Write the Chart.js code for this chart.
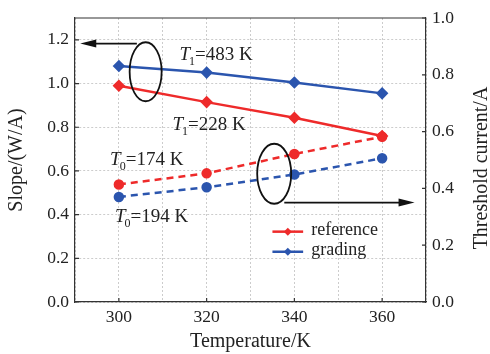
<!DOCTYPE html>
<html lang="en">
<head>
  <meta charset="UTF-8">
  <title>Slope and threshold current vs temperature</title>
  <script src="https://cdn.jsdelivr.net/npm/chart.js"></script>
  <style>
    body { margin: 0; background: #fff; }
    canvas { display: block; }
  </style>
</head>
<body>
  <canvas id="tempChart" width="490" height="354"></canvas>

<script>
// data
const temps = [300, 320, 340, 360];
const slopeRef = [0.99, 0.915, 0.843, 0.76];
const slopeGrad = [1.08, 1.05, 1.005, 0.955];
const ithRef = [0.414, 0.453, 0.521, 0.582];
const ithGrad = [0.37, 0.404, 0.449, 0.506];
const xTickLabels = [300, 320, 340, 360];
const leftTickLabels = [0, 0.2, 0.4, 0.6, 0.8, 1.0, 1.2];
const rightTickLabels = [0, 0.2, 0.4, 0.6, 0.8, 1.0];
const legendNames = ['reference', 'grading'];
const rightTitle = 'Threshold current/A';

const RED = '#ee2a2a';
const BLUE = '#2b55ae';
const INK = '#222';
const SERIF = '"Liberation Serif", "DejaVu Serif", serif';

function pts(ys) { return temps.map((t, i) => ({ x: t, y: ys[i] })); }

// annotations: anchors in data units (x, left axis)
const notes = [
  { sub: '1', rest: '=483 K', x: 313.8, y: 1.107 },
  { sub: '1', rest: '=228 K', x: 312.2, y: 0.789 },
  { sub: '0', rest: '=174 K', x: 298.0, y: 0.628 },
  { sub: '0', rest: '=194 K', x: 299.1, y: 0.366 }
];

const extras = {
  id: 'extras',
  afterDraw(chart) {
    const { ctx, chartArea: a, scales } = chart;
    const X = scales.x, Y = scales.y, Y1 = scales.y1;
    ctx.save();
    // top frame line
    ctx.strokeStyle = '#333'; ctx.lineWidth = 1.2;
    ctx.beginPath(); ctx.moveTo(a.left, a.top); ctx.lineTo(a.right, a.top); ctx.stroke();
    // inward tick marks
    ctx.beginPath();
    xTickLabels.forEach(v => { const px = X.getPixelForValue(v); ctx.moveTo(px, a.bottom); ctx.lineTo(px, a.bottom - 4); });
    leftTickLabels.forEach(v => { const py = Y.getPixelForValue(v); ctx.moveTo(a.left, py); ctx.lineTo(a.left + 4, py); });
    rightTickLabels.forEach(v => { const py = Y1.getPixelForValue(v); ctx.moveTo(a.right, py); ctx.lineTo(a.right - 4, py); });
    ctx.stroke();

    // right axis title, reading bottom to top
    ctx.save();
    ctx.translate(482, (a.top + a.bottom) / 2 + 8);
    ctx.rotate(-Math.PI / 2);
    ctx.fillStyle = INK; ctx.font = '20px ' + SERIF; ctx.textAlign = 'center'; ctx.textBaseline = 'middle';
    ctx.fillText(rightTitle, 0, 0);
    ctx.restore();

    // ellipses
    ctx.strokeStyle = '#111'; ctx.lineWidth = 1.8;
    ctx.beginPath(); ctx.ellipse(X.getPixelForValue(306.1), Y.getPixelForValue(1.054), 16, 29.5, 0, 0, Math.PI * 2); ctx.stroke();
    ctx.beginPath(); ctx.ellipse(X.getPixelForValue(335.4), Y.getPixelForValue(0.587), 17, 30, 0, 0, Math.PI * 2); ctx.stroke();

    // arrows
    function arrow(x0, x1, yv) {
      const p0 = X.getPixelForValue(x0), p1 = X.getPixelForValue(x1), py = Y.getPixelForValue(yv);
      const dir = Math.sign(p1 - p0);
      ctx.lineWidth = 1.8;
      ctx.beginPath(); ctx.moveTo(p0, py); ctx.lineTo(p1 - dir * 10, py); ctx.stroke();
      ctx.fillStyle = '#111';
      ctx.beginPath(); ctx.moveTo(p1, py); ctx.lineTo(p1 - dir * 16, py - 4); ctx.lineTo(p1 - dir * 16, py + 4); ctx.closePath(); ctx.fill();
    }
    arrow(304.1, 291.2, 1.183);
    arrow(337.7, 367.4, 0.455);

    // T annotations
    ctx.fillStyle = INK; ctx.textBaseline = 'alphabetic'; ctx.textAlign = 'left';
    notes.forEach(n => {
      let px = X.getPixelForValue(n.x);
      const py = Y.getPixelForValue(n.y);
      ctx.font = 'italic 19px ' + SERIF;
      ctx.fillText('T', px, py);
      px += ctx.measureText('T').width - 1;
      ctx.font = '12px ' + SERIF;
      ctx.fillText(n.sub, px, py + 5);
      px += ctx.measureText(n.sub).width;
      ctx.font = '19px ' + SERIF;
      ctx.fillText(n.rest, px, py);
    });

    // legend inside plot
    const lx0 = X.getPixelForValue(335.0), lx1 = X.getPixelForValue(342.0);
    [[RED, 0.322], [BLUE, 0.230]].forEach((it, i) => {
      const py = Y.getPixelForValue(it[1]);
      ctx.strokeStyle = it[0]; ctx.fillStyle = it[0]; ctx.lineWidth = 2.5;
      ctx.beginPath(); ctx.moveTo(lx0, py); ctx.lineTo(lx1, py); ctx.stroke();
      const cx = (lx0 + lx1) / 2;
      ctx.beginPath(); ctx.moveTo(cx, py - 4); ctx.lineTo(cx + 4, py); ctx.lineTo(cx, py + 4); ctx.lineTo(cx - 4, py); ctx.closePath(); ctx.fill();
      ctx.fillStyle = INK; ctx.font = '18px ' + SERIF; ctx.textBaseline = 'middle';
      ctx.fillText(legendNames[i], lx1 + 8, py - 1);
    });
    ctx.restore();
  }
};

const gridStyle = { color: '#cccccc', lineWidth: 1, drawTicks: false };
const tickFont = { family: SERIF, size: 17.5 };
const titleFont = { family: SERIF, size: 20 };

new Chart(document.getElementById('tempChart'), {
  type: 'line',
  data: {
    datasets: [
      { label: 'reference Ith', data: pts(ithRef), yAxisID: 'y1', borderColor: RED, backgroundColor: RED,
        borderDash: [7, 5], borderWidth: 2.5, pointStyle: 'circle', pointRadius: 4 },
      { label: 'grading Ith', data: pts(ithGrad), yAxisID: 'y1', borderColor: BLUE, backgroundColor: BLUE,
        borderDash: [7, 5], borderWidth: 2.5, pointStyle: 'circle', pointRadius: 4 },
      { label: 'reference', data: pts(slopeRef), yAxisID: 'y', borderColor: RED, backgroundColor: RED,
        borderWidth: 2.5, pointStyle: 'rectRot', pointRadius: 4.5 },
      { label: 'grading', data: pts(slopeGrad), yAxisID: 'y', borderColor: BLUE, backgroundColor: BLUE,
        borderWidth: 2.5, pointStyle: 'rectRot', pointRadius: 4.5 }
    ]
  },
  options: {
    responsive: false,
    animation: false,
    layout: { padding: { top: 18, left: 0, right: 0, bottom: 0 } },
    plugins: { legend: { display: false }, tooltip: { enabled: false } },
    scales: {
      x: {
        type: 'linear', min: 290, max: 370,
        grid: { ...gridStyle },
        border: { display: true, color: '#333', width: 1.2, dash: [2, 2] },
        ticks: { stepSize: 10, padding: 5, color: INK, font: tickFont,
          callback: v => (v % 20 === 0 ? String(v) : '') },
        title: { display: true, text: 'Temperature/K', color: INK, font: titleFont, padding: { top: 0, bottom: 0 } },
        afterFit: s => { s.height = 52; }
      },
      y: {
        position: 'left', min: 0, max: 1.3,
        grid: { ...gridStyle },
        border: { display: true, color: '#333', width: 1.2, dash: [2, 2] },
        ticks: { stepSize: 0.1, padding: 6, color: INK, font: tickFont,
          callback: v => (Math.round(v * 10) % 2 === 0 ? v.toFixed(1) : '') },
        title: { display: true, text: 'Slope/(W/A)', color: INK, font: titleFont, padding: { top: 5, bottom: 0 } },
        afterFit: s => { s.width = 75; }
      },
      y1: {
        position: 'right', min: 0, max: 1.0,
        grid: { display: false, drawTicks: false },
        border: { display: true, color: '#333', width: 1.2 },
        ticks: { stepSize: 0.2, padding: 6, color: INK, font: tickFont, callback: v => v.toFixed(1) },
        afterFit: s => { s.width = 64; }
      }
    }
  },
  plugins: [extras]
});
</script>
</body>
</html>
